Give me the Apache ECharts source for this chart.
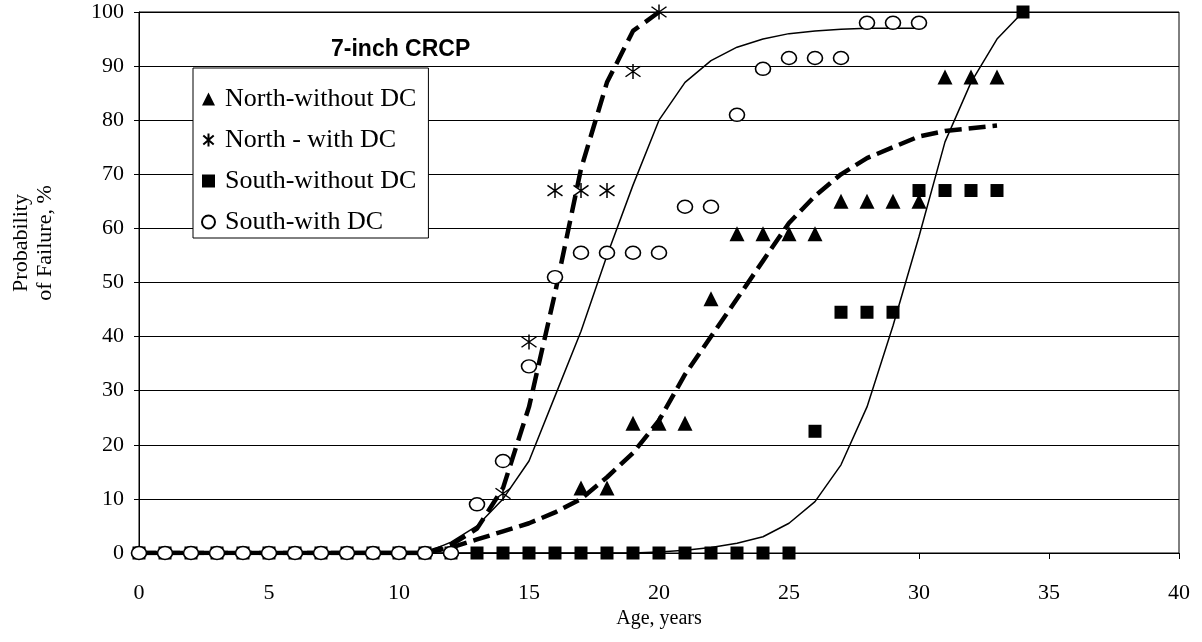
<!DOCTYPE html>
<html><head><meta charset="utf-8">
<script src="https://cdn.jsdelivr.net/npm/echarts@6/dist/echarts.min.js"></script>
<style>html,body{margin:0;padding:0;background:#fff}#c{width:1202px;height:642px}</style>
</head><body><div id="c"></div>
<script>
// Observed data
const northWithoutAge = [17,18,19,20,21,22,23,24,25,26,27,28,29,30,31,32,33];
const northWithoutVal = [12,12,24,24,24,47,59,59,59,59,65,65,65,65,88,88,88];
const northWithAge = [14,15,16,17,18,19,20];
const northWithVal = [11,39,67,67,67,89,100];
const southWithoutAge = [0,1,2,3,4,5,6,7,8,9,10,11,12,13,14,15,16,17,18,19,20,21,22,23,24,25,26,27,28,29,30,31,32,33,34];
const southWithoutVal = [0,0,0,0,0,0,0,0,0,0,0,0,0,0,0,0,0,0,0,0,0,0,0,0,0,0,22.5,44.5,44.5,44.5,67,67,67,67,100];
const southWithAge = [0,1,2,3,4,5,6,7,8,9,10,11,12,13,14,15,16,17,18,19,20,21,22,23,24,25,26,27,28,29,30];
const southWithVal = [0,0,0,0,0,0,0,0,0,0,0,0,0,9,17,34.5,51,55.5,55.5,55.5,55.5,64,64,81,89.5,91.5,91.5,91.5,98,98,98];

// Fitted curves
const fitNorthWithoutAge = [0,1,2,3,4,5,6,7,8,9,10,11,12,13,14,15,16,17,18,19,20,21,22,23,24,25,26,27,28,29,30,31,32,33];
const fitNorthWithoutVal = [0,0,0,0,0,0,0,0,0,0,0,0,1,2.5,4,5.5,7.5,10,14,18.5,24.5,33,40,47,54,61,66,70,73,75,77,78,78.5,79];
const fitNorthWithAge = [0,1,2,3,4,5,6,7,8,9,10,11,12,13,14,15,16,17,18,19,20];
const fitNorthWithVal = [0,0,0,0,0,0,0,0,0,0,0,0,1.5,4.5,12,27,48,71,87,96.5,100];
const fitSouthWithAge = [0,1,2,3,4,5,6,7,8,9,10,11,12,13,14,15,16,17,18,19,20,21,22,23,24,25,26,27,28,29,30];
const fitSouthWithVal = [0,0,0,0,0,0,0,0,0,0,0,0,2,5,10,17,29,41,55,68,80,87,91,93.5,95,96,96.5,96.8,97,97,97];
const fitSouthWithoutAge = [0,1,2,3,4,5,6,7,8,9,10,11,12,13,14,15,16,17,18,19,20,21,22,23,24,25,26,27,28,29,30,31,32,33,34];
const fitSouthWithoutVal = [0,0,0,0,0,0,0,0,0,0,0,0,0,0,0,0,0,0,0,0,0.2,0.5,1,1.8,3,5.5,9.5,16.3,27,42,58.5,76,87,95,100];

const seriesNames = ['North-without DC','North - with DC','South-without DC','South-with DC'];
const titleText = '7-inch CRCP';
const xName = 'Age, years';
const yName = 'Probability\nof Failure, %';

const zip = (a, b) => a.map((v, i) => [v, b[i]]);
const serif = 'Liberation Serif';
const asterisk = 'path://M0,-10L0,10M-8,-7L8,7M-8,7L8,-7';

const chart = echarts.init(document.getElementById('c'), null, {renderer: 'canvas'});
const fitLine = (data, width, type, z) => ({
  type: 'line', data, showSymbol: false, symbol: 'none', silent: true, z,
  lineStyle: {color: '#000', width, type, opacity: 1}, animation: false
});
chart.setOption({
  animation: false,
  backgroundColor: '#fff',
  title: {text: titleText, left: 326, top: 33,
    textStyle: {fontFamily: 'Liberation Sans', fontWeight: 'bold', fontSize: 23, color: '#000'}},
  grid: {left: 139, right: 23, top: 12, bottom: 89, show: true, borderColor: '#000', borderWidth: 1, backgroundColor: 'transparent'},
  legend: {
    data: seriesNames, orient: 'vertical', left: 193, top: 68,
    backgroundColor: '#fff', borderColor: '#000', borderWidth: 1, borderRadius: 0,
    padding: [17, 12, 2, 8], itemGap: 13, itemWidth: 13, itemHeight: 13,
    textStyle: {fontFamily: serif, fontSize: 26, color: '#000', lineHeight: 28, padding: [0, 0, 0, 5]}
  },
  xAxis: {
    type: 'value', min: 0, max: 40, interval: 5,
    name: xName, nameLocation: 'middle', nameGap: 51,
    nameTextStyle: {fontFamily: serif, fontSize: 20, color: '#000'},
    axisLine: {show: true, onZero: false, lineStyle: {color: '#000', width: 1}},
    axisTick: {show: true, inside: false, length: 6, lineStyle: {color: '#000'}},
    axisLabel: {fontFamily: serif, fontSize: 22, color: '#000', margin: 29},
    splitLine: {show: false}
  },
  yAxis: {
    type: 'value', min: 0, max: 100, interval: 10,
    axisLine: {show: true, lineStyle: {color: '#000', width: 1}},
    axisTick: {show: true, inside: false, length: 5, lineStyle: {color: '#000'}},
    axisLabel: {fontFamily: serif, fontSize: 22, color: '#000', margin: 15},
    splitLine: {show: true, lineStyle: {color: '#000', width: 1}}
  },
  graphic: [{
    type: 'text', x: 33, y: 243, rotation: Math.PI / 2,
    style: {text: yName, font: '22px "Liberation Serif"', fill: '#000', textAlign: 'center', textVerticalAlign: 'middle', lineHeight: 24}
  }],
  series: [
    fitLine(zip(fitSouthWithAge, fitSouthWithVal), 1.5, 'solid', 2),
    fitLine(zip(fitSouthWithoutAge, fitSouthWithoutVal), 1.5, 'solid', 2),
    fitLine(zip(fitNorthWithoutAge, fitNorthWithoutVal), 4.5, [17, 7], 3),
    fitLine(zip(fitNorthWithAge, fitNorthWithVal), 4.5, [18, 8], 3),
    {name: seriesNames[0], type: 'scatter', z: 5, symbol: 'triangle', symbolSize: 15,
     itemStyle: {color: '#000', opacity: 1}, data: zip(northWithoutAge, northWithoutVal)},
    {name: seriesNames[1], type: 'scatter', z: 5, symbol: asterisk, symbolSize: 15,
     itemStyle: {color: 'rgba(0,0,0,0)', borderColor: '#000', borderWidth: 1.5, opacity: 1}, data: zip(northWithAge, northWithVal)},
    {name: seriesNames[2], type: 'scatter', z: 5, symbol: 'rect', symbolSize: 13,
     itemStyle: {color: '#000', opacity: 1}, data: zip(southWithoutAge, southWithoutVal)},
    {name: seriesNames[3], type: 'scatter', z: 6, symbol: 'circle', symbolSize: [15, 13],
     itemStyle: {color: '#fff', borderColor: '#000', borderWidth: 1.5, opacity: 1}, data: zip(southWithAge, southWithVal)}
  ]
});
</script></body></html>
